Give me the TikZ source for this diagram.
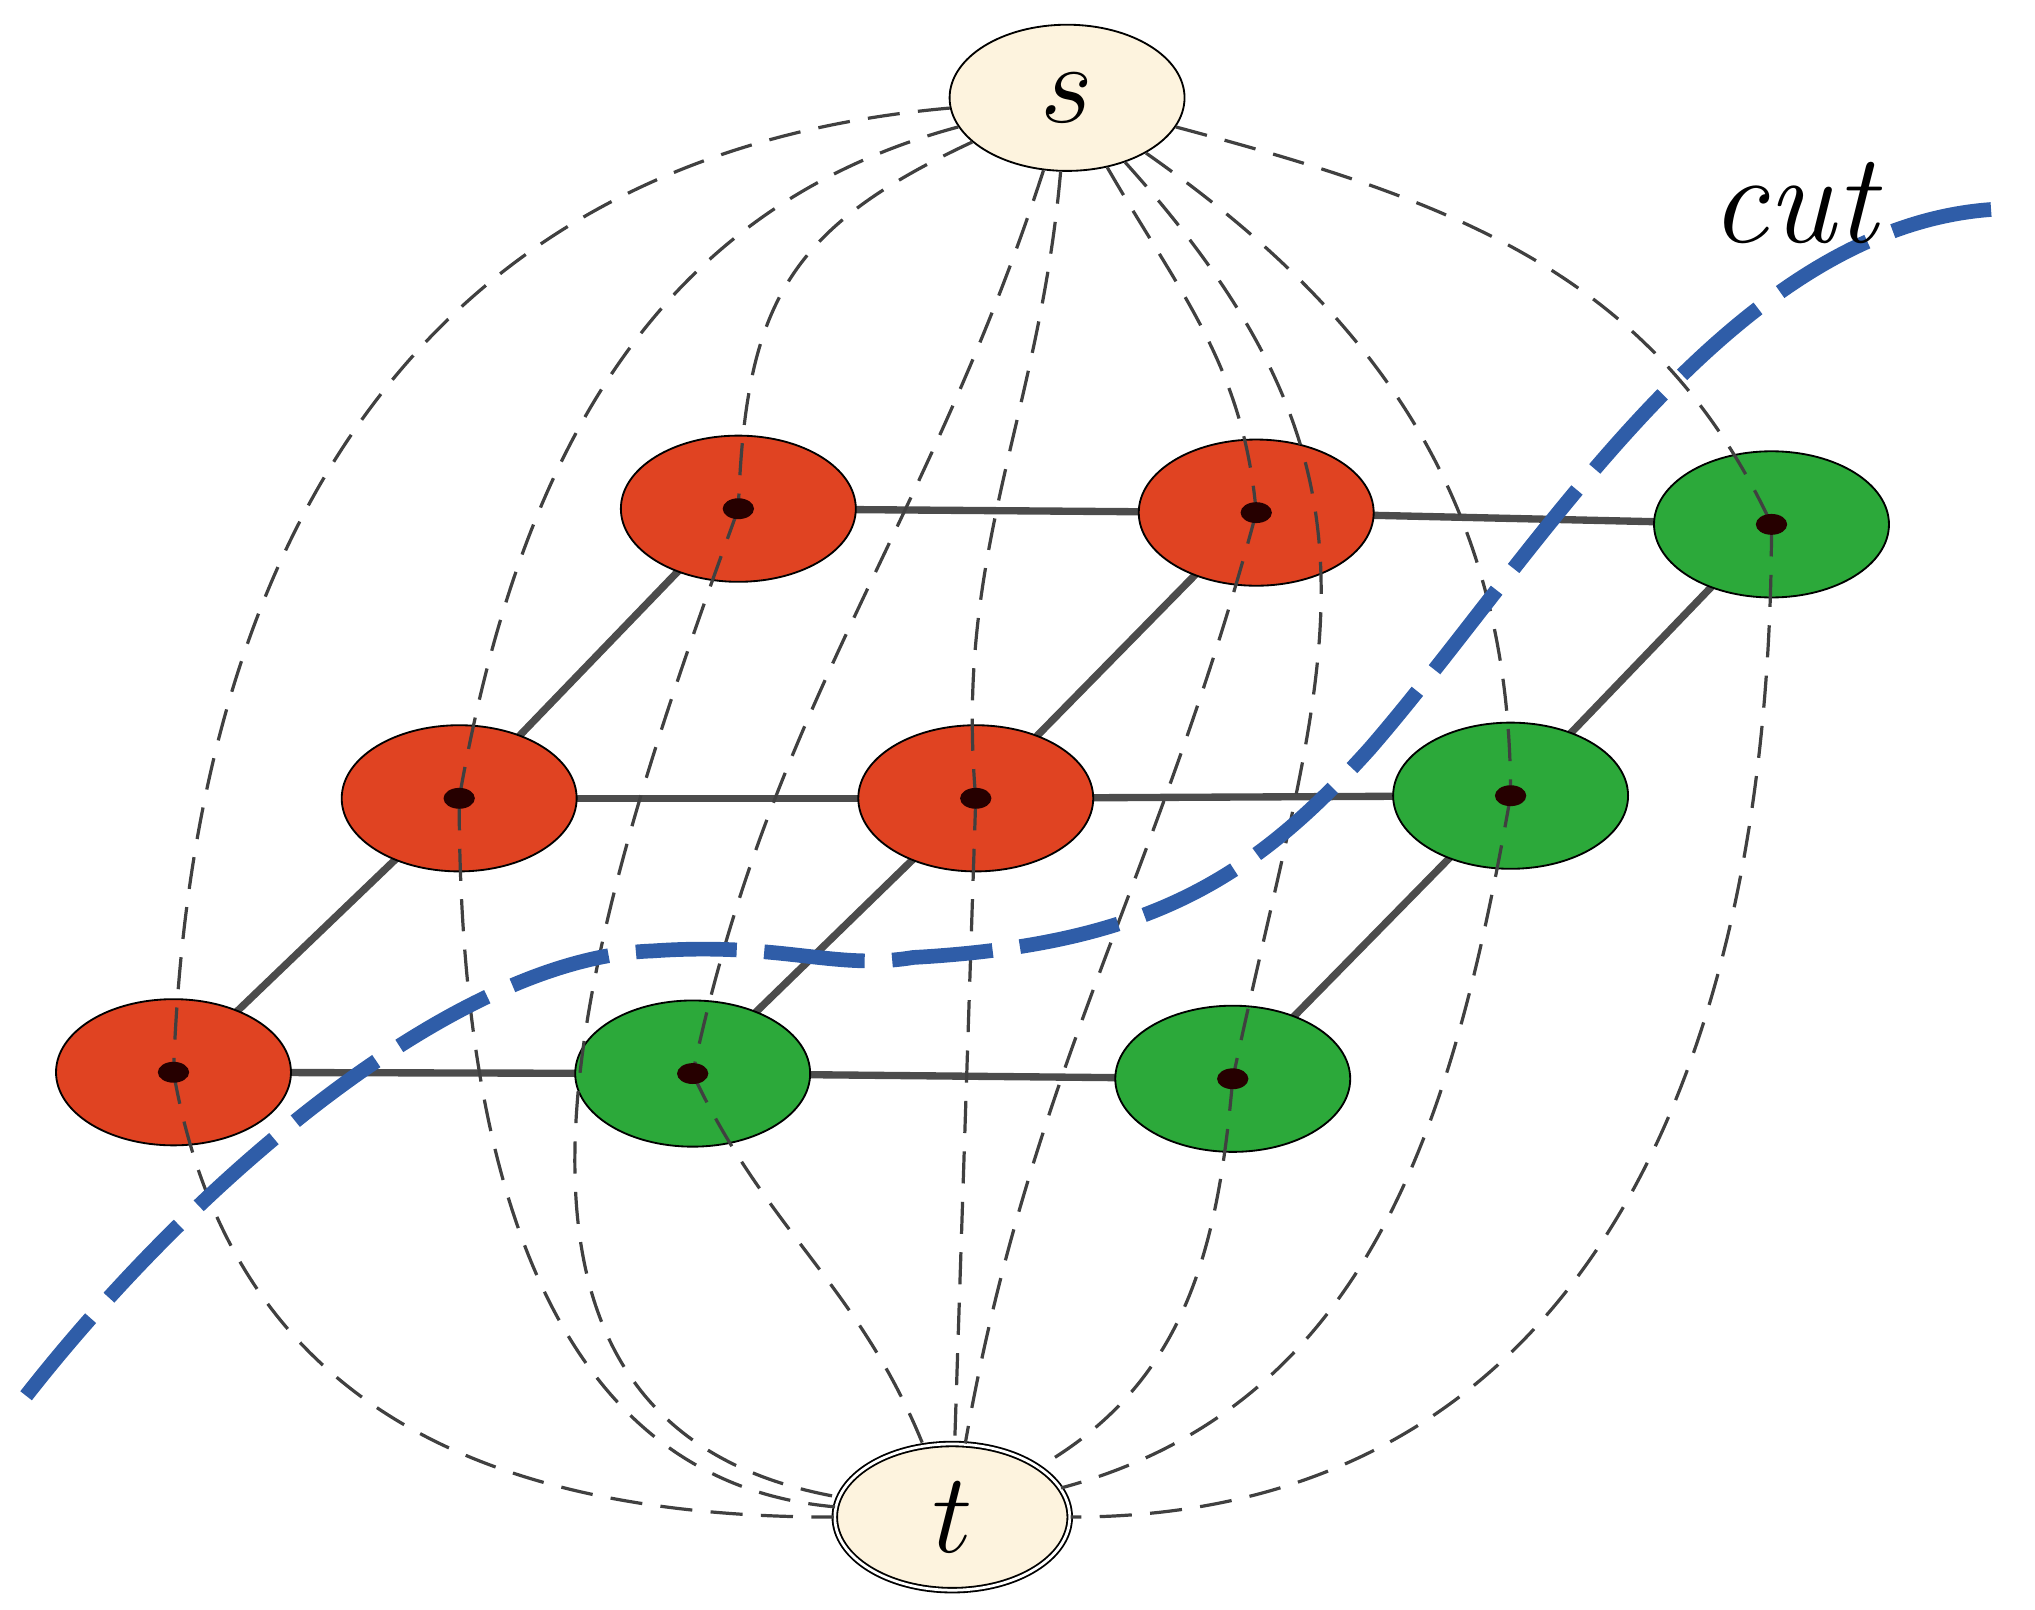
\documentclass[tikz,border=0pt]{standalone}
\usepackage{tikz}
\usetikzlibrary{shapes.geometric}
\definecolor{vred}{HTML}{E04322}
\definecolor{vgreen}{HTML}{2CA93A}
\definecolor{cream}{HTML}{FDF3DE}
\definecolor{cutblue}{HTML}{2F5DA8}
\tikzset{
  vtx/.style={ellipse, draw=black, thin, minimum width=1.8cm, minimum height=1.12cm},
  term/.style={vtx, fill=cream, font=\fontsize{34}{34}\selectfont},
  dot/.style={ellipse, fill=black!85!red, inner sep=0pt, minimum width=0.24cm, minimum height=0.16cm},
  grid/.style={draw=black!70, line width=1.6pt},
  flow/.style={draw=black!75, dashed, dash pattern=on 7pt off 4pt, line width=0.7pt}
}
\begin{document}
\begin{tikzpicture}[x=0.01cm,y=0.01cm]
\useasboundingbox (0,0) rectangle (1560,1234);
% grid nodes
\foreach \n/\x/\y/\c in {a1/566/844/vred, a2/963/841/vred, a3/1358/832/vgreen,
  b1/352/622/vred, b2/748/622/vred, b3/1158/624/vgreen,
  c1/133/412/vred, c2/531/411/vgreen, c3/945/407/vgreen}
  \coordinate (\n) at (\x,\y);
% grid edges
\foreach \p/\q in {a1/a2,a2/a3,b1/b2,b2/b3,c1/c2,c2/c3,c1/b1,b1/a1,c2/b2,b2/a2,c3/b3,b3/a3}
  \draw[grid] (\p) -- (\q);
\foreach \n/\c in {a1/vred,a2/vred,a3/vgreen,b1/vred,b2/vred,b3/vgreen,c1/vred,c2/vgreen,c3/vgreen}
  \node[vtx, fill=\c] (\n n) at (\n) {};
\node[term] (s) at (818,1159) {$s$};
\node[term, double] (t) at (730,71) {$t$};
% source edges
\draw[flow] (s) to[out=185,in=88,looseness=1.1] (c1);
\draw[flow] (s) to[out=195,in=80] (b1);
\draw[flow] (s) to[out=205,in=88,looseness=1.2] (a1);
\draw[flow] (s) to[out=252,in=78] (c2);
\draw[flow] (s) to[out=265,in=95] (b2);
\draw[flow] (s) to[out=300,in=95] (a2);
\draw[flow] (s) to[out=312,in=78,looseness=1.2] (c3);
\draw[flow] (s) to[out=325,in=90] (b3);
\draw[flow] (s) to[out=345,in=115] (a3);
% sink edges
\draw[flow] (c1) to[out=-80,in=180,looseness=1.1] (t);
\draw[flow] (b1) to[out=-90,in=175] (t);
\draw[flow] (a1) to[out=-110,in=170,looseness=1.1] (t);
\draw[flow] (c2) to[out=-65,in=112] (t);
\draw[flow] (b2) -- (t);
\draw[flow] (a2) to[out=-105,in=80] (t);
\draw[flow] (c3) to[out=-95,in=30] (t);
\draw[flow] (b3) to[out=-100,in=15] (t);
\draw[flow] (a3) to[out=-90,in=0,looseness=1.1] (t);
% dots
\foreach \n in {a1,a2,a3,b1,b2,b3,c1,c2,c3}
  \node[dot] at (\n) {};
% cut
\draw[cutblue, line width=3.2pt, dash pattern=on 22pt off 6pt]
  (20,164) .. controls (150,330) and (350,500) .. (500,505)
  .. controls (600,512) and (640,490) .. (700,500)
  .. controls (880,510) and (960,560) .. (1050,660)
  .. controls (1180,810) and (1330,1070) .. (1540,1074);
\node[font=\fontsize{28}{28}\selectfont\itshape] (cutlbl) at (1375,1078) {cut};
\end{tikzpicture}
\end{document}
